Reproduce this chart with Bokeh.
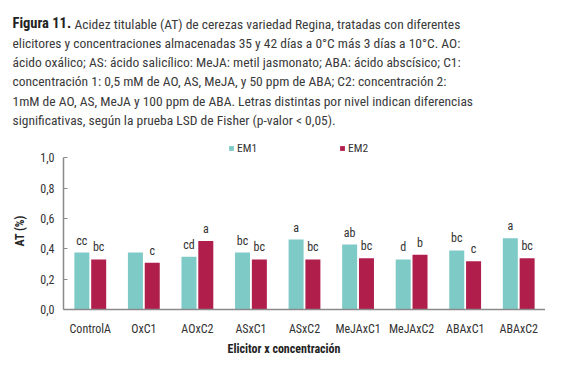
from bokeh.plotting import figure
from bokeh.layouts import column
from bokeh.models import (FactorRange, ColumnDataSource, Label, Legend, LegendItem,
                          FixedTicker, Range1d, Title)
from bokeh.transform import dodge
from bokeh.core.properties import value
from bokeh.embed import file_html
from bokeh.resources import INLINE

# ---- data ----
categories = ["ControlA", "OxC1", "AOxC2", "ASxC1", "ASxC2",
              "MeJAxC1", "MeJAxC2", "ABAxC1", "ABAxC2"]
em1 = [0.375, 0.375, 0.347, 0.375, 0.461, 0.428, 0.330, 0.389, 0.469]
em2 = [0.330, 0.308, 0.452, 0.330, 0.330, 0.338, 0.360, 0.318, 0.338]
letters_em1 = ["cc", "", "cd", "bc", "a", "ab", "d", "bc", "a"]
letters_em2 = ["bc", "c", "a", "bc", "bc", "bc", "b", "c", "bc"]
series_names = ["EM1", "EM2"]
y_ticks = [0.0, 0.2, 0.4, 0.6, 0.8, 1.0]
y_tick_labels = ["0,0", "0,2", "0,4", "0,6", "0,8", "1,0"]
x_title = "Elicitor x concentración"
y_title = "AT (%)"
caption_bold = "Figura 11."
caption_lines = [
    "Acidez titulable (AT) de cerezas variedad Regina, tratadas con diferentes",
    "elicitores y concentraciones almacenadas 35 y 42 días a 0°C más 3 días a 10°C. AO:",
    "ácido oxálico; AS: ácido salicílico: MeJA: metil jasmonato; ABA: ácido abscísico; C1:",
    "concentración 1: 0,5 mM de AO, AS, MeJA, y 50 ppm de ABA; C2: concentración 2:",
    "1mM de AO, AS, MeJA y 100 ppm de ABA. Letras distintas por nivel indican diferencias",
    "significativas, según la prueba LSD de Fisher (p-valor < 0,05).",
]

FONT = "'Liberation Sans Narrow', 'Roboto Condensed', Roboto, sans-serif"
C1 = "#7ecac7"
C2 = "#b01e4c"
TXT = "#333333"
AX = "#8a8a8a"
W = 545
CAP_H = 128

# ---- caption figure ----
cap = figure(width=W, height=CAP_H, x_range=Range1d(0, W), y_range=Range1d(CAP_H, 0),
             x_axis_type=None, y_axis_type=None,
             output_backend="svg", toolbar_location=None,
             min_border=0, min_border_left=0, min_border_right=0,
             min_border_top=0, min_border_bottom=0)
cap.frame_align = False
cap.title = None
cap.grid.visible = False
cap.outline_line_color = None
base = 23
step = 19.3
cap.add_layout(Label(x=12, y=base, text=caption_bold, text_baseline="alphabetic",
                     text_font=FONT, text_font_size="14.5px", text_font_style="bold",
                     text_color="#222222"))
for i, line in enumerate(caption_lines):
    cap.add_layout(Label(x=(74 if i == 0 else 12), y=base + i * step, text=line,
                         text_baseline="alphabetic", text_font=FONT,
                         text_font_size="13.5px", text_color="#3a3a3a"))

# ---- chart figure ----
src = ColumnDataSource(dict(cat=categories, em1=em1, em2=em2,
                            l1=letters_em1, l2=letters_em2))

CH = 356 - CAP_H
p = figure(width=W, height=CH, x_range=FactorRange(factors=categories, range_padding=0.0),
           y_range=(0, 1.12), output_backend="svg", toolbar_location=None,
           min_border_left=61, min_border_right=0, min_border_top=11, min_border_bottom=46)
p.frame_align = False
p.title = None
p.outline_line_color = None
p.xgrid.grid_line_color = None
p.ygrid.grid_line_color = None

off = 0.157
bw = 0.28
r1 = p.vbar(x=dodge("cat", -off, range=p.x_range), top="em1", width=bw, source=src,
            fill_color=C1, line_color=None)
r2 = p.vbar(x=dodge("cat", off, range=p.x_range), top="em2", width=bw, source=src,
            fill_color=C2, line_color=None)

for col, lab, yc in ((-off, "l1", "em1"), (off, "l2", "em2")):
    p.text(x=dodge("cat", col, range=p.x_range), y=yc, text=lab, source=src,
           text_align="center", text_baseline="alphabetic", y_offset=-12,
           text_font=value(FONT), text_font_size=value("12px"), text_color=TXT)

ya = p.yaxis[0]
ya.ticker = FixedTicker(ticks=y_ticks)
ya.major_label_overrides = dict(zip(y_ticks, y_tick_labels))
ya.bounds = (0, 1)
ya.axis_line_color = AX
ya.axis_line_width = 1.5
ya.major_tick_line_color = AX
ya.major_tick_in = 4
ya.major_tick_out = 0
ya.minor_tick_line_color = None
ya.major_label_standoff = 9
ya.major_label_text_font = FONT
ya.major_label_text_font_size = "12px"
ya.major_label_text_color = TXT

xa = p.xaxis[0]
xa.axis_line_color = AX
xa.axis_line_width = 1.5
xa.major_tick_line_color = None
xa.minor_tick_line_color = None
xa.major_label_standoff = 6
xa.major_label_text_font = FONT
xa.major_label_text_font_size = "12px"
xa.major_label_text_color = TXT

for r, name, lx in ((r1, series_names[0], 165), (r2, series_names[1], 276)):
    lg = Legend(items=[LegendItem(label=name, renderers=[r])], location=(lx, 154),
                orientation="horizontal", border_line_color=None,
                background_fill_alpha=0, padding=0, margin=0, spacing=0,
                glyph_width=6, glyph_height=6, label_height=6, label_standoff=3,
                label_text_font=FONT, label_text_font_size="11.5px",
                label_text_color=TXT)
    p.add_layout(lg)

p.add_layout(Title(text=x_title, align="left", offset=164, text_font=FONT,
                   text_font_size="12px", text_font_style="bold",
                   text_color="#222222", standoff=2), "below")
p.add_layout(Title(text=y_title, align="left", offset=63, text_font=FONT,
                   text_font_size="12px", text_font_style="bold",
                   text_color="#222222", standoff=21), "left")

open("out.html", "w").write(file_html(column(cap, p, spacing=0), INLINE))
